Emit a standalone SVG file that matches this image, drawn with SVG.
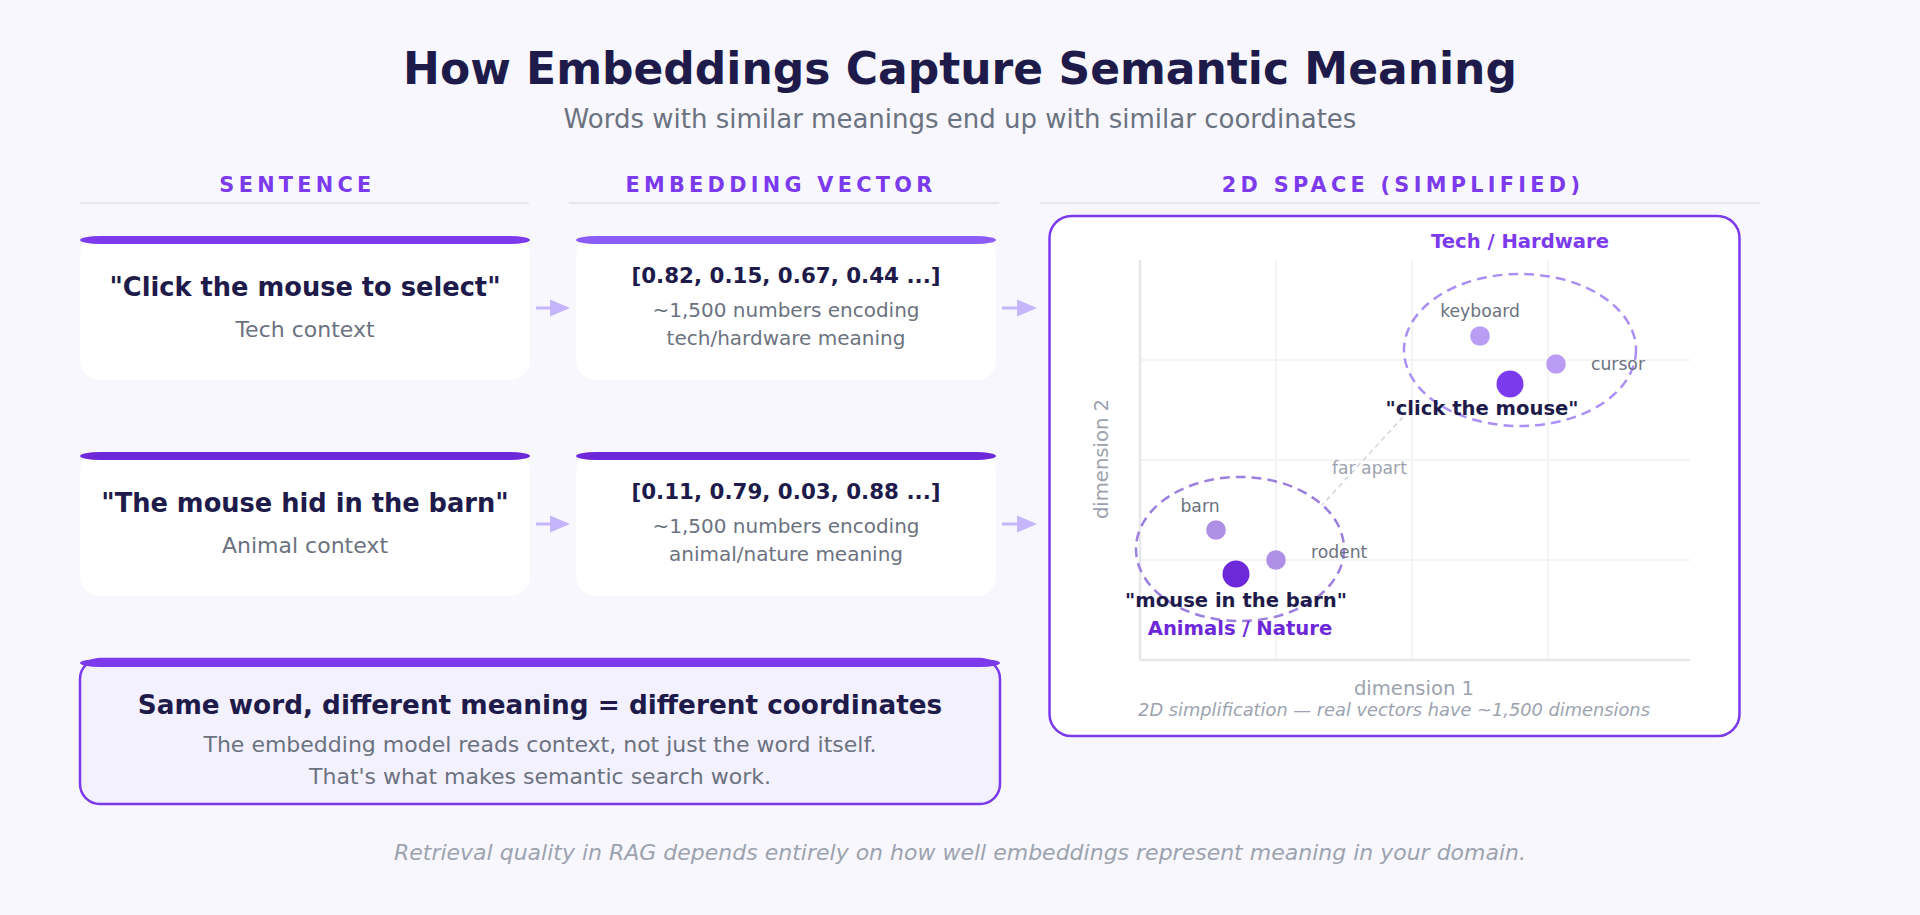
<svg xmlns="http://www.w3.org/2000/svg" width="1920" height="915" viewBox="0 0 1920 915">
  <defs>
    <style>
      text { font-family: "DejaVu Sans", "Noto Sans", sans-serif; }
      .title { font-size: 44px; font-weight: bold; fill: #1e1b4b; }
      .subtitle { font-size: 26px; fill: #6b7280; }
      .colhead { font-size: 20.8px; font-weight: bold; fill: #7c3aed; letter-spacing: 4.3px; }
      .hline { stroke: #e5e7eb; stroke-width: 2; }
      .card { fill: #ffffff; }
      .ctitle { font-size: 25.7px; font-weight: bold; fill: #1e1b4b; }
      .csub { font-size: 22px; fill: #6b7280; }
      .vec { font-size: 21.4px; font-weight: bold; fill: #1e1b4b; }
      .vsub { font-size: 20px; fill: #6b7280; }
      .arrow { stroke: #c4b5fd; stroke-width: 3; fill: none; marker-end: url(#ah); }
      .grid { stroke: #f0f0f4; stroke-width: 1.5; }
      .axis { stroke: #e5e7eb; stroke-width: 2.5; }
      .lbl { font-size: 17.2px; fill: #6b7280; }
      .faint { fill: #9ca3af; }
      .ptlbl { font-weight: bold; fill: #1e1b4b; font-size: 19.6px; }
      .halo { fill: none; stroke-width: 2.5; stroke-dasharray: 9.8 6.1; }
    </style>
    <marker id="ah" markerUnits="userSpaceOnUse" markerWidth="20" markerHeight="17" refX="10" refY="8.5" orient="auto">
      <path d="M0,0 L20,8.5 L0,17 z" fill="#c4b5fd"/>
    </marker>
  </defs>

  <rect x="0" y="0" width="1920" height="915" fill="#f8f7fe"/>

  <g id="header">
    <text class="title" x="960" y="84" text-anchor="middle">How Embeddings Capture Semantic Meaning</text>
    <text class="subtitle" x="960" y="128" text-anchor="middle">Words with similar meanings end up with similar coordinates</text>
  </g>

  <g id="column-headers">
    <text class="colhead" x="297.5" y="192" text-anchor="middle">SENTENCE</text>
    <line class="hline" x1="80" y1="203" x2="529" y2="203"/>
    <text class="colhead" x="781" y="192" text-anchor="middle">EMBEDDING VECTOR</text>
    <line class="hline" x1="569" y1="203" x2="999" y2="203"/>
    <text class="colhead" x="1403" y="192" text-anchor="middle">2D SPACE (SIMPLIFIED)</text>
    <line class="hline" x1="1040" y1="203" x2="1760" y2="203"/>
  </g>

  <g id="sentence-tech">
    <rect class="card" x="80" y="236" width="450" height="144" rx="20"/>
    <rect x="80" y="236" width="450" height="8" rx="20" fill="#7c3aed"/>
    <text class="ctitle" x="305" y="295.5" text-anchor="middle">"Click the mouse to select"</text>
    <text class="csub" x="305" y="336.5" text-anchor="middle">Tech context</text>
  </g>

  <g id="vector-tech">
    <rect class="card" x="576" y="236" width="420" height="144" rx="20"/>
    <rect x="576" y="236" width="420" height="8" rx="20" fill="#8b5cf6"/>
    <text class="vec" x="786" y="282.5" text-anchor="middle">[0.82, 0.15, 0.67, 0.44 ...]</text>
    <text class="vsub" x="786" y="316.5" text-anchor="middle">~1,500 numbers encoding</text>
    <text class="vsub" x="786" y="344.5" text-anchor="middle">tech/hardware meaning</text>
  </g>

  <g id="sentence-animal">
    <rect class="card" x="80" y="452" width="450" height="144" rx="20"/>
    <rect x="80" y="452" width="450" height="8" rx="20" fill="#6d28d9"/>
    <text class="ctitle" x="305" y="511.5" text-anchor="middle">"The mouse hid in the barn"</text>
    <text class="csub" x="305" y="552.5" text-anchor="middle">Animal context</text>
  </g>

  <g id="vector-animal">
    <rect class="card" x="576" y="452" width="420" height="144" rx="20"/>
    <rect x="576" y="452" width="420" height="8" rx="20" fill="#6d28d9"/>
    <text class="vec" x="786" y="498.5" text-anchor="middle">[0.11, 0.79, 0.03, 0.88 ...]</text>
    <text class="vsub" x="786" y="532.5" text-anchor="middle">~1,500 numbers encoding</text>
    <text class="vsub" x="786" y="560.5" text-anchor="middle">animal/nature meaning</text>
  </g>

  <g id="connectors">
    <line class="arrow" x1="536" y1="308" x2="560" y2="308"/>
    <line class="arrow" x1="1002" y1="308" x2="1027" y2="308"/>
    <line class="arrow" x1="536" y1="524" x2="560" y2="524"/>
    <line class="arrow" x1="1002" y1="524" x2="1027" y2="524"/>
  </g>

  <g id="space-panel">
    <rect x="1049.5" y="216" width="690" height="520" rx="22" fill="#ffffff" stroke="#7c3aed" stroke-width="2.5"/>
    <text class="ptlbl" x="1520" y="248" text-anchor="middle" style="fill:#7c3aed">Tech / Hardware</text>
    <g id="grid">
      <line class="grid" x1="1276" y1="260" x2="1276" y2="660"/>
      <line class="grid" x1="1412" y1="260" x2="1412" y2="660"/>
      <line class="grid" x1="1548" y1="260" x2="1548" y2="660"/>
      <line class="grid" x1="1140" y1="360" x2="1690" y2="360"/>
      <line class="grid" x1="1140" y1="460" x2="1690" y2="460"/>
      <line class="grid" x1="1140" y1="560" x2="1690" y2="560"/>
      <line class="axis" x1="1140" y1="260" x2="1140" y2="660"/>
      <line class="axis" x1="1140" y1="660" x2="1690" y2="660"/>
    </g>
    <text class="faint" x="1108" y="459" text-anchor="middle" font-size="19.6" transform="rotate(-90 1108 459)">dimension 2</text>
    <text class="faint" x="1414" y="695" text-anchor="middle" font-size="19.6">dimension 1</text>
    <text class="faint" x="1394" y="716" text-anchor="middle" font-size="17.8" font-style="italic">2D simplification — real vectors have ~1,500 dimensions</text>

    <line x1="1403" y1="417" x2="1322" y2="505" stroke="#d1d5db" stroke-width="1.5" stroke-dasharray="5 4"/>
    <text class="faint" x="1332" y="474" font-size="17.2">far apart</text>

    <g id="cluster-tech">
      <ellipse class="halo" cx="1520" cy="350" rx="116" ry="76" stroke="#ab8ff5"/>
      <circle cx="1480" cy="336" r="9.8" fill="#b99cf3"/>
      <text class="lbl" x="1480" y="316.7" text-anchor="middle">keyboard</text>
      <circle cx="1556" cy="364" r="9.8" fill="#b99cf3"/>
      <text class="lbl" x="1591" y="370">cursor</text>
      <circle cx="1510" cy="384" r="13.5" fill="#7c3aed"/>
      <text class="ptlbl" x="1482" y="415" text-anchor="middle">"click the mouse"</text>
    </g>

    <g id="cluster-animal">
      <ellipse class="halo" cx="1240" cy="549" rx="104" ry="72" stroke="#9d7fe0"/>
      <circle cx="1216" cy="530" r="9.8" fill="#ae8fe6"/>
      <text class="lbl" x="1200" y="511.7" text-anchor="middle">barn</text>
      <circle cx="1276" cy="560" r="9.8" fill="#ae8fe6"/>
      <text class="lbl" x="1311" y="558.3">rodent</text>
      <circle cx="1236" cy="574" r="13.5" fill="#6d28d9"/>
      <text class="ptlbl" x="1236" y="606.7" text-anchor="middle">"mouse in the barn"</text>
      <text class="ptlbl" x="1240" y="635" text-anchor="middle" style="fill:#6d28d9">Animals / Nature</text>
    </g>
  </g>

  <g id="takeaway">
    <rect x="80" y="659" width="920" height="145" rx="20" fill="#f4f1fe" stroke="#7c3aed" stroke-width="2.5"/>
    <rect x="80" y="659" width="920" height="8" rx="20" fill="#7c3aed"/>
    <text class="ctitle" x="540" y="714" text-anchor="middle" style="font-size:26.3px">Same word, different meaning = different coordinates</text>
    <text class="csub" x="540" y="752" text-anchor="middle">The embedding model reads context, not just the word itself.</text>
    <text class="csub" x="540" y="784" text-anchor="middle">That's what makes semantic search work.</text>
  </g>

  <g id="footer">
    <text class="faint" x="960" y="860" text-anchor="middle" font-size="22" font-style="italic">Retrieval quality in RAG depends entirely on how well embeddings represent meaning in your domain.</text>
  </g>
</svg>
